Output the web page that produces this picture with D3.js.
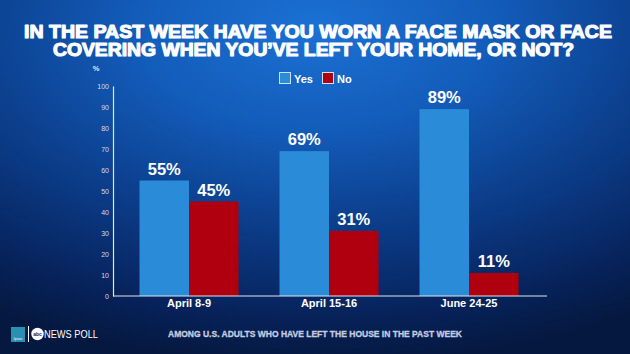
<!DOCTYPE html>
<html>
<head>
<meta charset="utf-8">
<script src="https://cdn.jsdelivr.net/npm/d3@7"></script>
<style>
html,body{margin:0;padding:0;background:#0a2d6e;}
svg{display:block;}
</style>
</head>
<body>
<svg id="chart" width="630" height="354"></svg>
<script>
const categories = ["April 8-9", "April 15-16", "June 24-25"];
const seriesNames = ["Yes", "No"];
const yesValues = [55, 69, 89];
const noValues = [45, 31, 11];
const yTicks = [0, 10, 20, 30, 40, 50, 60, 70, 80, 90, 100];
const titleLines = ["IN THE PAST WEEK HAVE YOU WORN A FACE MASK OR FACE",
                    "COVERING WHEN YOU\u2019VE LEFT YOUR HOME, OR NOT?"];
const footnote = "AMONG U.S. ADULTS WHO HAVE LEFT THE HOUSE IN THE PAST WEEK";

const colors = {Yes: "#2a8bd8", No: "#b0000f"};
const svg = d3.select("#chart");
const W = 630, H = 354;

// background gradient
const defs = svg.append("defs");
const rg = defs.append("radialGradient").attr("id", "bg")
  .attr("cx", "50%").attr("cy", "8%").attr("r", "95%")
  .attr("fx", "50%").attr("fy", "8%");
rg.append("stop").attr("offset", "0%").attr("stop-color", "#1b71d4");
rg.append("stop").attr("offset", "30%").attr("stop-color", "#135cba");
rg.append("stop").attr("offset", "60%").attr("stop-color", "#0b3c88");
rg.append("stop").attr("offset", "85%").attr("stop-color", "#07235c");
rg.append("stop").attr("offset", "100%").attr("stop-color", "#05183f");
svg.append("rect").attr("width", W).attr("height", H).attr("fill", "url(#bg)");

// title
const titleFont = "'Liberation Sans', Arial, sans-serif";
const tl = [{t: titleLines[0], x: 24, w: 588, y: 37.5}, {t: titleLines[1], x: 53, w: 521, y: 56}];
svg.selectAll("text.title").data(tl).enter().append("text")
  .attr("class", "title")
  .attr("x", d => d.x).attr("y", d => d.y)
  .attr("textLength", d => d.w).attr("lengthAdjust", "spacingAndGlyphs")
  .attr("font-family", titleFont).attr("font-weight", 900)
  .attr("font-size", 17.5).attr("fill", "#ffffff")
  .style("paint-order", "stroke").attr("stroke", "#ffffff").attr("stroke-width", 1.1)
  .attr("stroke-linejoin", "round")
  .text(d => d.t);

// scales
const plot = {left: 113, right: 547, top: 86, bottom: 296};
const y = d3.scaleLinear().domain([0, 100]).range([plot.bottom, plot.top]);
const x0 = d3.scaleBand().domain(categories).range([119, 539]).padding(0);
const x1 = d3.scaleBand().domain(seriesNames).range([0, x0.bandwidth()])
  .paddingInner(0).paddingOuter(0.414);

const data = categories.map((c, i) => ({cat: c, Yes: yesValues[i], No: noValues[i]}));

// y axis
const yAxis = d3.axisLeft(y).tickValues(yTicks).tickSize(0).tickPadding(4);
const gy = svg.append("g").attr("transform", `translate(${plot.left},0)`).call(yAxis);
gy.select(".domain").attr("stroke", "#dfe6f2").attr("stroke-width", 1.2);
gy.selectAll("text").attr("fill", "#d3dbeb").attr("font-size", 7)
  .attr("font-family", "'Liberation Sans', Arial, sans-serif");

svg.append("text").attr("x", 96).attr("y", 71).attr("text-anchor", "middle")
  .attr("font-family", "'Liberation Sans', Arial, sans-serif").attr("font-weight", 700)
  .attr("font-size", 7.5).attr("fill", "#e0e6f2").text("%");

// bars
const groups = svg.selectAll("g.grp").data(data).enter().append("g")
  .attr("class", "grp").attr("transform", d => `translate(${x0(d.cat)},0)`);
groups.selectAll("rect").data(d => seriesNames.map(k => ({k, v: d[k]}))).enter()
  .append("rect")
  .attr("x", d => x1(d.k)).attr("width", x1.bandwidth())
  .attr("y", d => y(d.v)).attr("height", d => y(0) - y(d.v))
  .attr("fill", d => colors[d.k]);
groups.selectAll("text.val").data(d => seriesNames.map(k => ({k, v: d[k]}))).enter()
  .append("text").attr("class", "val")
  .attr("x", d => x1(d.k) + x1.bandwidth() / 2).attr("y", d => y(d.v) - 6)
  .attr("text-anchor", "middle")
  .attr("font-family", "'Liberation Sans', Arial, sans-serif").attr("font-weight", 700)
  .attr("font-size", 16.5).attr("fill", "#ffffff")
  .text(d => d.v + "%");

// x axis
const xAxis = d3.axisBottom(x0).tickSize(0).tickPadding(0);
const gx = svg.append("g").attr("transform", `translate(0,${plot.bottom})`).call(xAxis);
gx.select(".domain").remove();
svg.append("line").attr("x1", plot.left).attr("x2", plot.right)
  .attr("y1", plot.bottom).attr("y2", plot.bottom)
  .attr("stroke", "#dfe6f2").attr("stroke-width", 1.2);
gx.selectAll("text").attr("y", 11).attr("dy", 0)
  .attr("fill", "#ffffff").attr("font-size", 11).attr("font-weight", 700)
  .attr("font-family", "'Liberation Sans', Arial, sans-serif");

// legend
const legX = [279, 322];
const leg = svg.selectAll("g.leg").data(seriesNames).enter().append("g")
  .attr("class", "leg").attr("transform", (d, i) => `translate(${legX[i]},72)`);
leg.append("rect").attr("x", 0.5).attr("y", 0.5).attr("width", 11).attr("height", 11)
  .attr("fill", d => colors[d]).attr("stroke", "#cfe0f5").attr("stroke-width", 1);
leg.append("text").attr("x", 15).attr("y", 11)
  .attr("font-family", "'Liberation Sans', Arial, sans-serif").attr("font-weight", 700)
  .attr("font-size", 11).attr("fill", "#ffffff").text(d => d);

// footer
svg.append("text").attr("x", 168).attr("y", 336.5).attr("textLength", 294)
  .attr("lengthAdjust", "spacingAndGlyphs")
  .attr("font-family", "'Liberation Sans', Arial, sans-serif").attr("font-weight", 900)
  .attr("font-size", 8.5).attr("fill", "#c5cde0")
  .attr("stroke", "#c5cde0").attr("stroke-width", 0.3).text(footnote);

// logos
svg.append("rect").attr("x", 11).attr("y", 327).attr("width", 14).attr("height", 15)
  .attr("fill", "#2b8fb3");
svg.append("text").attr("x", 18).attr("y", 340).attr("text-anchor", "middle")
  .attr("font-family", "'Liberation Sans', Arial, sans-serif").attr("font-size", 3.5)
  .attr("fill", "#ffffff").text("Ipsos");
svg.append("line").attr("x1", 28.5).attr("x2", 28.5).attr("y1", 326).attr("y2", 342)
  .attr("stroke", "#ffffff").attr("stroke-width", 1);
svg.append("circle").attr("cx", 37.5).attr("cy", 334).attr("r", 6.2).attr("fill", "#ffffff");
svg.append("text").attr("x", 37.5).attr("y", 335.8).attr("text-anchor", "middle")
  .attr("font-family", "'Liberation Sans', Arial, sans-serif").attr("font-size", 5)
  .attr("font-weight", 700).attr("fill", "#0a2050").text("abc");
svg.append("text").attr("x", 44).attr("y", 338).attr("textLength", 54)
  .attr("lengthAdjust", "spacingAndGlyphs")
  .attr("font-family", "'Liberation Sans', Arial, sans-serif").attr("font-size", 10)
  .attr("fill", "#ffffff").text("NEWS POLL");
</script>
</body>
</html>
